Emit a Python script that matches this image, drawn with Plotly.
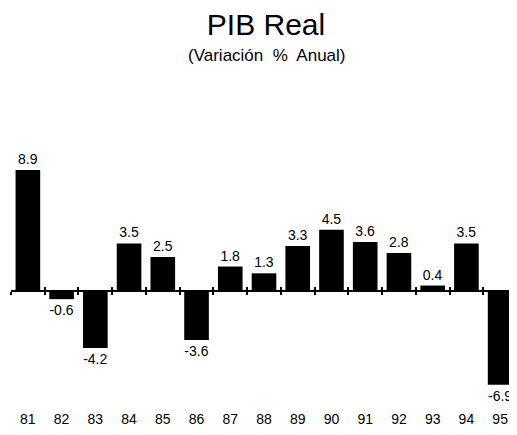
import plotly.graph_objects as go

years = ["81", "82", "83", "84", "85", "86", "87", "88", "89", "90", "91", "92", "93", "94", "95"]
growth = [8.9, -0.6, -4.2, 3.5, 2.5, -3.6, 1.8, 1.3, 3.3, 4.5, 3.6, 2.8, 0.4, 3.5, -6.9]
labels = [f"{v:.1f}" for v in growth]

# the page body adds an 8px margin, so the figure is sized to fit the window
W, H = 509, 427
top, bottom = 92, 401
zero_px = 283
scale = 13.6
y_max = (zero_px - top) / scale
y_min = -(bottom - zero_px) / scale
zero_frac = (0 - y_min) / (y_max - y_min)
plot_h = bottom - top

FONT = "Liberation Sans Narrow, Arial Narrow, Liberation Sans, Arial, sans-serif"

fig = go.Figure()
fig.add_trace(go.Bar(
    x=years, y=growth, text=labels, textposition="outside",
    marker=dict(color="black", line=dict(width=0)),
    textfont=dict(family=FONT, size=14, color="black"),
    cliponaxis=False, showlegend=False,
))
# empty traces hosting the zero-line axes (ticks crossing the line)
fig.add_trace(go.Bar(x=years, y=[None] * len(years), xaxis="x2", showlegend=False))
fig.add_trace(go.Bar(x=years, y=[None] * len(years), xaxis="x3", showlegend=False))

zero_axis = dict(
    type="category", overlaying="x", anchor="free", position=zero_frac,
    showline=True, linecolor="black", linewidth=1.5,
    tickson="boundaries", ticklen=3, tickcolor="black",
    tickwidth=1.5, showticklabels=False, showgrid=False, zeroline=False,
    matches="x",
)

fig.update_layout(
    width=W, height=H,
    margin=dict(l=3, r=0, t=top, b=H - bottom),
    paper_bgcolor="white", plot_bgcolor="white",
    bargap=0.27,
    title=dict(
        text="PIB Real",
        x=258 / W, xanchor="center", y=1 - 16 / H, yanchor="middle",
        font=dict(family=FONT, size=30, color="black"),
    ),
    annotations=[dict(
        text="(Variación  %  Anual)", showarrow=False,
        xref="paper", yref="paper",
        x=(258 - 3) / (W - 3), y=(bottom - 47) / plot_h,
        xanchor="center", yanchor="middle",
        font=dict(family=FONT, size=17, color="black"),
    )],
    font=dict(family=FONT, color="black"),
    xaxis=dict(
        type="category", showline=False, showgrid=False, zeroline=False,
        ticks="", tickfont=dict(size=14, color="black", family=FONT),
    ),
    xaxis2=dict(zero_axis, side="bottom", ticks="outside"),
    xaxis3=dict(zero_axis, side="bottom", ticks="inside"),
    yaxis=dict(range=[y_min, y_max], visible=False, showgrid=False, zeroline=False),
)

fig.write_html("out.html")
